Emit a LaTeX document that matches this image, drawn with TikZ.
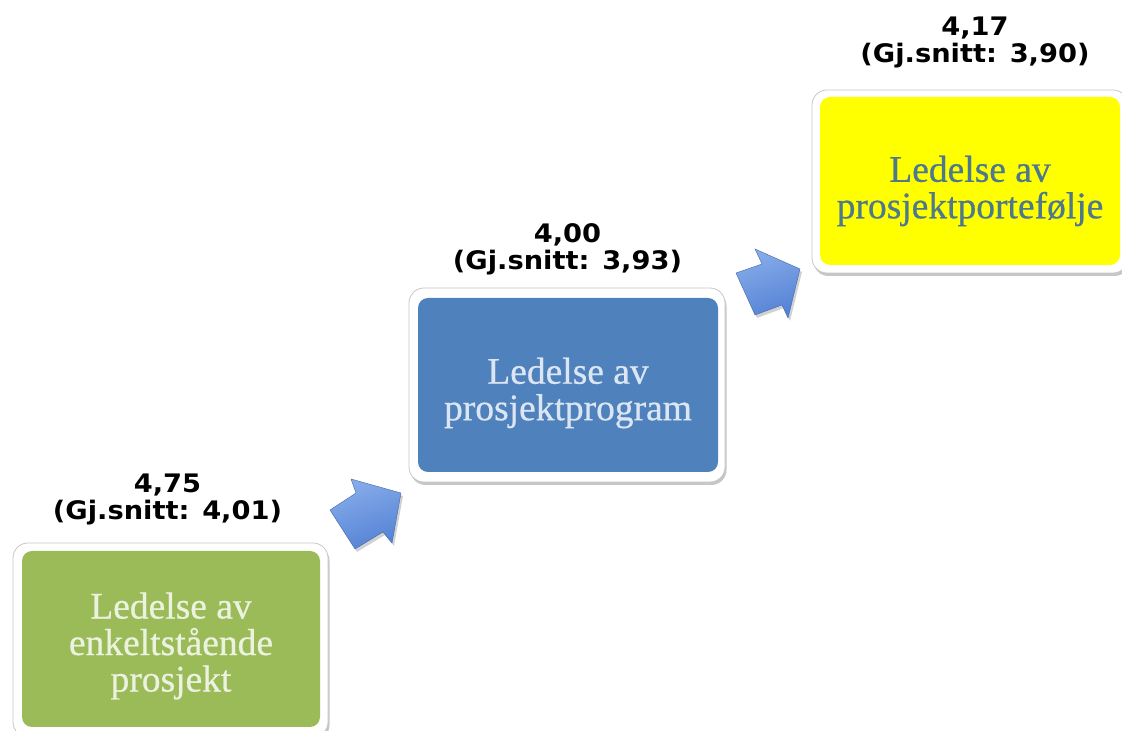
\documentclass[tikz,border=0pt]{standalone}
\usepackage{fontspec}
\newfontfamily\labfont[FakeStretch=1.07]{DejaVu Sans}
\newfontfamily\boxfont[FakeBold=0.6]{Liberation Serif}
\usetikzlibrary{shadows,calc}
\definecolor{gfill}{RGB}{155,187,89}
\definecolor{bfill}{RGB}{79,129,189}
\definecolor{yfill}{RGB}{255,255,0}
\definecolor{gtext}{RGB}{236,242,224}
\definecolor{btext}{RGB}{220,230,242}
\definecolor{ytext}{RGB}{78,120,140}
\definecolor{arrlight}{RGB}{135,172,234}
\definecolor{arrdark}{RGB}{84,130,212}
\tikzset{
  frame/.style={rectangle, rounded corners=15pt, fill=white, draw=black!22, line width=0.8pt,
    drop shadow={shadow xshift=1.5pt, shadow yshift=-3pt, opacity=0.22, fill=black}},
  inner/.style={rectangle, rounded corners=10pt, draw=none, inner sep=0pt},
  boxtext/.style={align=center, font=\boxfont\fontsize{37.5}{36.5}\selectfont},
  value/.style={align=center, font=\labfont\bfseries\fontsize{25.5}{27}\selectfont, text=black, anchor=base},
  blockarrow/.style={top color=arrlight, bottom color=arrdark, shading angle=20, draw=arrdark!80!black, line width=0.4pt},
  arrshadow/.style={fill=black, opacity=0.18}
}
\begin{document}
\begin{tikzpicture}[x=1pt,y=1pt]
\useasboundingbox (0,0) rectangle (1122,731);
% frames
\node[frame, minimum width=315pt, minimum height=194pt] (gframe) at (170.5,91) {};
\node[frame, minimum width=316pt, minimum height=194pt] (bframe) at (567,346) {};
\node[frame, minimum width=316pt, minimum height=183pt] (yframe) at (970,549.5) {};
% inner boxes
\node[inner, fill=gfill, minimum width=298pt, minimum height=176pt] (g) at (171,92) {};
\node[inner, fill=bfill, minimum width=300pt, minimum height=174pt] (b) at (568,346) {};
\node[inner, fill=yfill, minimum width=300pt, minimum height=168pt] (y) at (970,550) {};
% box texts
\node[boxtext, text=gtext] (gt) at ($(g.center)+(0,-7)$) {Ledelse av\\enkeltstående\\prosjekt};
\node[boxtext, text=btext] (bt) at ($(b.center)+(0,-8)$) {Ledelse av\\prosjektprogram};
\node[boxtext, text=ytext] (yt) at ($(y.center)+(0,-10)$) {Ledelse av\\prosjektportefølje};
% values (base anchor = last line baseline)
\node[value] (gv) at (167.5,211) {4,75\\(Gj.snitt: 4,01)};
\node[value] (bv) at (567.5,461) {4,00\\(Gj.snitt: 3,93)};
\node[value] (yv) at (975,668) {4,17\\(Gj.snitt: 3,90)};
% block arrows
\fill[arrshadow] (353,249) -- (358,235) -- (332,218) -- (357,179) -- (385,196) -- (394,185) -- (403,235) -- cycle;
\shade[blockarrow] (351,252) -- (356,238) -- (330,221) -- (355,182) -- (383,199) -- (392,188) -- (401,238) -- cycle;
\fill[arrshadow] (757,479) -- (764,464) -- (738,455) -- (757,413) -- (784,423) -- (790,410) -- (802,459) -- cycle;
\shade[blockarrow] (755,482) -- (762,467) -- (736,458) -- (755,416) -- (782,426) -- (788,413) -- (800,462) -- cycle;
\end{tikzpicture}
\end{document}
